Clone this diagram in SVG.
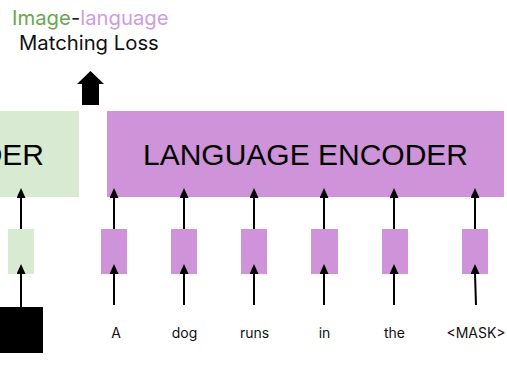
<svg xmlns="http://www.w3.org/2000/svg" width="507" height="372" viewBox="0 0 507 372">
  <style>
    .enc-green { fill: #d9ead3; }
    .enc-purple { fill: #ce93d8; }
    .tok-green { fill: #d9ead3; }
    .tok-purple { fill: #ce93d8; }
    .box-label { font-family: "Liberation Sans", Arial, sans-serif; font-size: 30px; fill: #000; }
    .word { font-family: Inter, "Noto Sans", sans-serif; font-size: 14px; fill: #111; text-anchor: middle; }
    .title { font-family: Inter, "Noto Sans", sans-serif; font-size: 20.3px; }
    .link { stroke: #000; stroke-width: 2; fill: none; marker-end: url(#head); }
  </style>
  <defs>
    <marker id="head" markerWidth="9" markerHeight="10" refX="4.5" refY="10" orient="0" markerUnits="userSpaceOnUse" viewBox="0 0 9 10">
      <path d="M0,10 L4.5,0 L9,10 Z" fill="#000"/>
    </marker>
  </defs>

  <rect width="507" height="372" fill="#fff"/>

  <!-- loss label -->
  <g id="loss-label">
    <text class="title" x="12" y="25"><tspan fill="#6aa84f">Image</tspan><tspan fill="#222">-</tspan><tspan fill="#d29be0">language</tspan></text>
    <text class="title" x="19" y="50" fill="#111">Matching Loss</text>
  </g>

  <!-- output arrow to loss -->
  <g id="loss-arrow">
    <path d="M82,105 L82,84 L77,84 L90.5,71 L104,84 L99,84 L99,105 Z" fill="#000"/>
  </g>

  <!-- image encoder (partially visible) -->
  <g id="image-encoder">
    <rect class="enc-green" x="-10" y="111" width="89" height="86"/>
    <text class="box-label" x="44" y="165" text-anchor="end">DER</text>
  </g>

  <!-- language encoder -->
  <g id="language-encoder">
    <rect class="enc-purple" x="107" y="111" width="397" height="86"/>
    <text class="box-label" x="305.5" y="165" text-anchor="middle">LANGUAGE ENCODER</text>
  </g>

  <!-- image input -->
  <g id="image-input">
    <rect x="-10" y="307" width="53" height="46" fill="#000"/>
  </g>
  <g id="image-token">
    <rect class="tok-green" x="8" y="229" width="26" height="45"/>
  </g>

  <!-- text tokens -->
  <g id="token-a"><rect class="tok-purple" x="101" y="229" width="26" height="45"/><text class="word" x="116" y="338">A</text></g>
  <g id="token-dog"><rect class="tok-purple" x="171" y="229" width="26" height="45"/><text class="word" x="184.5" y="338">dog</text></g>
  <g id="token-runs"><rect class="tok-purple" x="241" y="229" width="26" height="45"/><text class="word" x="254.5" y="338">runs</text></g>
  <g id="token-in"><rect class="tok-purple" x="311" y="229" width="27" height="45"/><text class="word" x="324.5" y="338">in</text></g>
  <g id="token-the"><rect class="tok-purple" x="382" y="229" width="26" height="45"/><text class="word" x="394.5" y="338">the</text></g>
  <g id="token-mask"><rect class="tok-purple" x="462" y="229" width="26" height="45"/><text class="word" x="476" y="338">&lt;MASK&gt;</text></g>

  <!-- connectors -->
  <g id="connectors">
    <line class="link" x1="21" y1="307" x2="21" y2="274"/>
    <line class="link" x1="21" y1="229" x2="21" y2="198"/>
    <line class="link" x1="114" y1="305" x2="114" y2="274"/>
    <line class="link" x1="114" y1="229" x2="114" y2="198"/>
    <line class="link" x1="184" y1="305" x2="184" y2="274"/>
    <line class="link" x1="184" y1="229" x2="184" y2="198"/>
    <line class="link" x1="254" y1="305" x2="254" y2="274"/>
    <line class="link" x1="254" y1="229" x2="254" y2="198"/>
    <line class="link" x1="324" y1="305" x2="324" y2="274"/>
    <line class="link" x1="324" y1="229" x2="324" y2="198"/>
    <line class="link" x1="394" y1="305" x2="394" y2="274"/>
    <line class="link" x1="394" y1="229" x2="394" y2="198"/>
    <line class="link" x1="476" y1="305" x2="475" y2="274"/>
    <line class="link" x1="475" y1="229" x2="475" y2="198"/>
  </g>
</svg>
